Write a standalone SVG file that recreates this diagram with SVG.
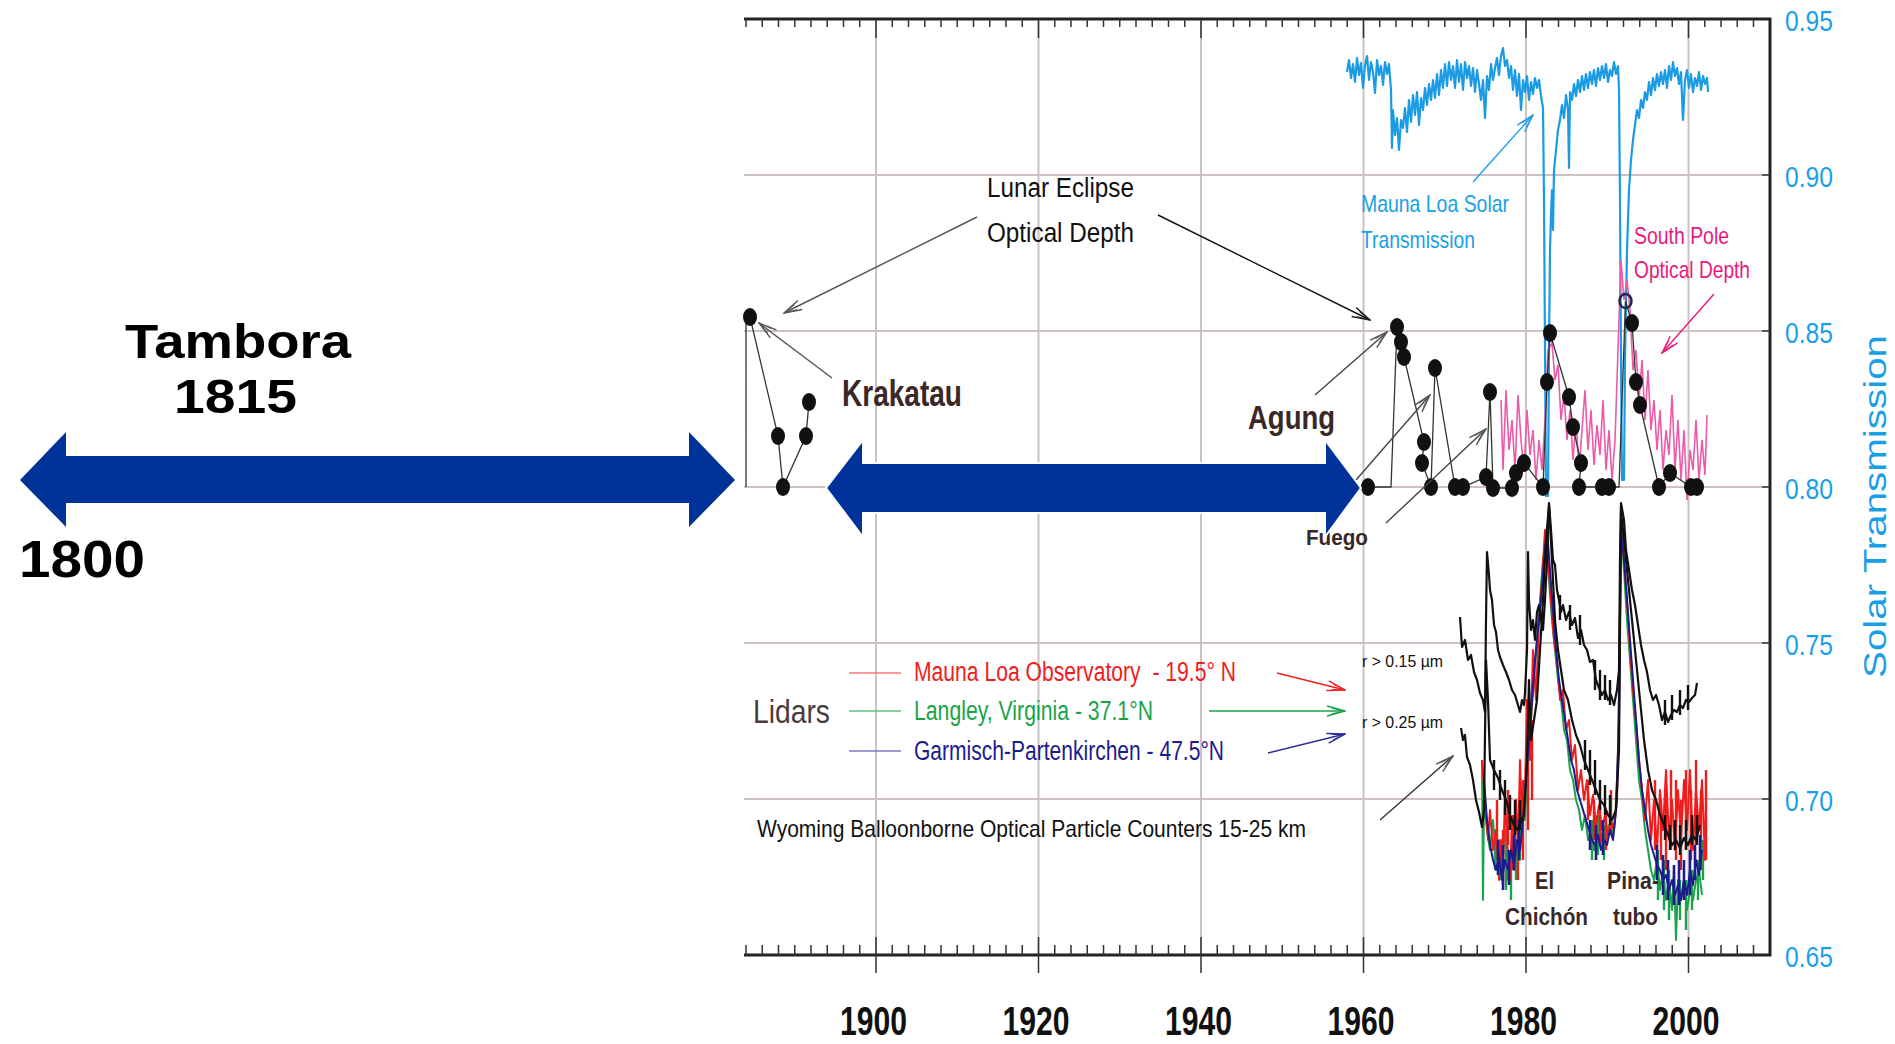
<svg xmlns="http://www.w3.org/2000/svg" width="1895" height="1044" viewBox="0 0 1895 1044">
<style>
.t{font-family:"Liberation Sans",Arial,sans-serif}
.b{font-weight:bold}
.grid{stroke:#cdc2c0;stroke-width:2;fill:none}
.frame{stroke:#222;stroke-width:3;fill:none}
.tick{stroke:#333;stroke-width:1.5;fill:none}
.dl{stroke:#333;stroke-width:1.3;fill:none}
.dot{fill:#111}
.cy{fill:#1a9fe6}
.brn{fill:#3a2828}
.ar{fill:none;stroke-width:1.4}
.blue{fill:#003399}
</style>
<defs>
<marker id="ah-k" viewBox="0 0 20 12" refX="19" refY="6" markerWidth="20" markerHeight="12" markerUnits="userSpaceOnUse" orient="auto"><path d="M1,1 L19,6 L1,11 M6,3 L19,6 L6,9" fill="none" stroke="#222" stroke-width="1.5"/></marker>
<marker id="ah-g" viewBox="0 0 20 12" refX="19" refY="6" markerWidth="20" markerHeight="12" markerUnits="userSpaceOnUse" orient="auto"><path d="M1,1 L19,6 L1,11 M6,3 L19,6 L6,9" fill="none" stroke="#555" stroke-width="1.4"/></marker>
<marker id="ah-c" viewBox="0 0 20 12" refX="19" refY="6" markerWidth="20" markerHeight="12" markerUnits="userSpaceOnUse" orient="auto"><path d="M1,1 L19,6 L1,11 M6,3 L19,6 L6,9" fill="none" stroke="#1a9fe6" stroke-width="1.4"/></marker>
<marker id="ah-p" viewBox="0 0 20 12" refX="19" refY="6" markerWidth="20" markerHeight="12" markerUnits="userSpaceOnUse" orient="auto"><path d="M1,1 L19,6 L1,11 M6,3 L19,6 L6,9" fill="none" stroke="#e8197d" stroke-width="1.4"/></marker>
<marker id="ah-r" viewBox="0 0 20 12" refX="19" refY="6" markerWidth="20" markerHeight="12" markerUnits="userSpaceOnUse" orient="auto"><path d="M1,1 L19,6 L1,11 M6,3 L19,6 L6,9" fill="none" stroke="#f02020" stroke-width="1.4"/></marker>
<marker id="ah-gr" viewBox="0 0 20 12" refX="19" refY="6" markerWidth="20" markerHeight="12" markerUnits="userSpaceOnUse" orient="auto"><path d="M1,1 L19,6 L1,11 M6,3 L19,6 L6,9" fill="none" stroke="#1aa34a" stroke-width="1.4"/></marker>
<marker id="ah-bl" viewBox="0 0 20 12" refX="19" refY="6" markerWidth="20" markerHeight="12" markerUnits="userSpaceOnUse" orient="auto"><path d="M1,1 L19,6 L1,11 M6,3 L19,6 L6,9" fill="none" stroke="#2a2a9a" stroke-width="1.4"/></marker>
</defs>
<rect width="1895" height="1044" fill="#fff"/>

<g id="grid">
<path class="grid" d="M744 175H1770M744 331H1770M744 487H1770M744 643H1770M744 799H1770"/>
<path class="grid" d="M876 19V955M1038.5 19V955M1201 19V955M1363.5 19V955M1526 19V955M1688.5 19V955"/>
</g>

<g id="axes">
<path class="frame" d="M744 19H1770V955H744"/>
<path class="tick" d="M746 19v8M762.25 19v8M778.5 19v8M794.75 19v8M811 19v8M827.25 19v8M843.5 19v8M859.75 19v8M892.25 19v8M908.5 19v8M924.75 19v8M941 19v8M957.25 19v8M973.5 19v8M989.75 19v8M1006 19v8M1022.25 19v8M1054.75 19v8M1071 19v8M1087.25 19v8M1103.5 19v8M1119.75 19v8M1136 19v8M1152.25 19v8M1168.5 19v8M1184.75 19v8M1217.25 19v8M1233.5 19v8M1249.75 19v8M1266 19v8M1282.25 19v8M1298.5 19v8M1314.75 19v8M1331 19v8M1347.25 19v8M1379.75 19v8M1396 19v8M1412.25 19v8M1428.5 19v8M1444.75 19v8M1461 19v8M1477.25 19v8M1493.5 19v8M1509.75 19v8M1542.25 19v8M1558.5 19v8M1574.75 19v8M1591 19v8M1607.25 19v8M1623.5 19v8M1639.75 19v8M1656 19v8M1672.25 19v8M1704.75 19v8M1721 19v8M1737.25 19v8M1753.5 19v8"/>
<path class="tick" d="M746 945v10M762.25 945v10M778.5 945v10M794.75 945v10M811 945v10M827.25 945v10M843.5 945v10M859.75 945v10M892.25 945v10M908.5 945v10M924.75 945v10M941 945v10M957.25 945v10M973.5 945v10M989.75 945v10M1006 945v10M1022.25 945v10M1054.75 945v10M1071 945v10M1087.25 945v10M1103.5 945v10M1119.75 945v10M1136 945v10M1152.25 945v10M1168.5 945v10M1184.75 945v10M1217.25 945v10M1233.5 945v10M1249.75 945v10M1266 945v10M1282.25 945v10M1298.5 945v10M1314.75 945v10M1331 945v10M1347.25 945v10M1379.75 945v10M1396 945v10M1412.25 945v10M1428.5 945v10M1444.75 945v10M1461 945v10M1477.25 945v10M1493.5 945v10M1509.75 945v10M1542.25 945v10M1558.5 945v10M1574.75 945v10M1591 945v10M1607.25 945v10M1623.5 945v10M1639.75 945v10M1656 945v10M1672.25 945v10M1704.75 945v10M1721 945v10M1737.25 945v10M1753.5 945v10"/>
<path class="tick" d="M876 19v19M1038.5 19v19M1201 19v19M1363.5 19v19M1526 19v19M1688.5 19v19M876 937v36M1038.5 937v36M1201 937v36M1363.5 937v36M1526 937v36M1688.5 937v36"/>
<path class="tick" d="M1762 175h8M1762 331h8M1762 487h8M1762 643h8M1762 799h8"/>
<g class="t b" font-size="40" text-anchor="middle" fill="#111">
<text x="873.5" y="1035" textLength="67" lengthAdjust="spacingAndGlyphs">1900</text>
<text x="1036" y="1035" textLength="67" lengthAdjust="spacingAndGlyphs">1920</text>
<text x="1198.5" y="1035" textLength="67" lengthAdjust="spacingAndGlyphs">1940</text>
<text x="1361" y="1035" textLength="67" lengthAdjust="spacingAndGlyphs">1960</text>
<text x="1523.5" y="1035" textLength="67" lengthAdjust="spacingAndGlyphs">1980</text>
<text x="1686" y="1035" textLength="67" lengthAdjust="spacingAndGlyphs">2000</text>
</g>
<g class="t cy" font-size="29">
<text x="1785" y="31" textLength="48" lengthAdjust="spacingAndGlyphs">0.95</text>
<text x="1785" y="186.5" textLength="48" lengthAdjust="spacingAndGlyphs">0.90</text>
<text x="1785" y="342.5" textLength="48" lengthAdjust="spacingAndGlyphs">0.85</text>
<text x="1785" y="498.5" textLength="48" lengthAdjust="spacingAndGlyphs">0.80</text>
<text x="1785" y="654.5" textLength="48" lengthAdjust="spacingAndGlyphs">0.75</text>
<text x="1785" y="810.5" textLength="48" lengthAdjust="spacingAndGlyphs">0.70</text>
<text x="1785" y="966.5" textLength="48" lengthAdjust="spacingAndGlyphs">0.65</text>
</g>
<text class="t cy" font-size="32" transform="translate(1886 506.5) rotate(-90)" text-anchor="middle" textLength="343" lengthAdjust="spacingAndGlyphs">Solar Transmission</text>
</g>

<g id="solar-transmission-series">
<polyline fill="none" stroke="#1a9be4" stroke-width="2.2" stroke-linejoin="round" points="1347,72 1349,60 1351,78 1353,64 1355,82 1357,58 1359,75 1361,63 1363,88 1365,66 1367,56 1369,80 1371,62 1373,72 1375,93 1377,60 1379,75 1381,66 1383,85 1385,62 1387,74 1389,64 1391,90 1392,148 1393,110 1395,135 1397,118 1399,150 1401,120 1403,128 1405,108 1407,132 1409,100 1411,122 1413,95 1415,115 1417,92 1419,125 1421,98 1423,110 1425,88 1427,105 1429,84 1431,100 1433,80 1435,98 1437,74 1439,95 1441,70 1443,88 1445,64 1447,86 1449,62 1451,80 1453,66 1455,88 1457,60 1459,82 1461,64 1463,90 1465,62 1467,78 1469,66 1471,86 1473,68 1475,92 1477,70 1479,84 1481,100 1483,80 1485,118 1487,76 1489,90 1491,64 1493,80 1495,68 1497,58 1499,75 1501,56 1503,48 1505,66 1507,60 1509,78 1511,66 1513,90 1515,70 1517,96 1519,74 1521,110 1523,80 1525,92 1527,76 1529,100 1531,82 1533,94 1535,78 1537,88 1539,80 1541,96 1543,108 1544,200 1545,350 1546,496 1548,496 1549,350 1550,250 1551,215 1552,190 1553,230 1554,170 1556,150 1558,130 1560,120 1562,105 1564,118 1566,95 1568,110 1569,168 1570,92 1572,100 1574,84 1576,96 1578,80 1580,92 1582,76 1584,90 1586,74 1588,88 1590,72 1592,84 1594,70 1596,86 1598,68 1600,80 1602,66 1604,78 1606,64 1608,82 1610,70 1612,76 1614,62 1616,74 1618,66 1619,90 1620,200 1621,360 1622,480 1624,480 1625,360 1627,250 1629,190 1631,160 1633,140 1635,125 1637,110 1639,118 1641,100 1643,108 1645,92 1647,100 1649,82 1651,95 1653,78 1655,90 1657,74 1659,86 1661,72 1663,84 1665,70 1667,88 1669,66 1671,80 1673,62 1675,76 1677,68 1679,84 1681,72 1683,120 1685,80 1687,70 1689,88 1691,74 1693,92 1695,78 1697,86 1699,72 1701,90 1703,76 1705,84 1707,78 1708,92"/>
</g>

<g id="south-pole-series">
<polyline fill="none" stroke="#ec5aa8" stroke-width="1.6" points="1501,400 1503,470 1506,390 1509,450 1512,420 1515,470 1518,395 1521,440 1524,470 1527,410 1530,455 1533,430 1536,480 1539,440 1542,470 1545,420 1548,350 1552,343 1555,380 1558,365 1561,420 1564,395 1567,440 1570,410 1573,460 1576,420 1579,470 1582,430 1585,390 1588,450 1591,410 1594,465 1597,425 1600,455 1603,400 1606,470 1609,430 1612,480 1615,440 1618,350 1621,260 1624,300 1627,280 1630,310 1633,370 1636,350 1639,400 1642,360 1645,420 1648,370 1651,430 1654,400 1657,450 1660,410 1663,470 1666,430 1669,455 1672,395 1675,470 1678,420 1681,480 1684,430 1687,500 1690,450 1693,470 1696,420 1699,480 1702,440 1705,475 1707,415"/>
</g>

<g id="lunar-eclipse-series">
<polyline class="dl" points="746,487 746,318 750,317 778,436 783,487 806,436 809,402"/>
<polyline class="dl" points="1368,487 1391,487 1397,327 1401,342 1404,357 1424,442 1422,463 1431,487 1435,368 1455,487 1463,487 1486,477 1490,392 1493,488 1512,488 1516,473 1524,463 1543,487 1547,382 1550,333 1569,397 1573,427 1581,463 1579,487 1602,487 1609,487 1619,487 1625.5,301 1632,323 1636,382 1640,405 1659,487 1670,473 1691,487 1697,487"/>
<g class="dot">
<ellipse cx="750" cy="317" rx="7" ry="9"/><ellipse cx="778" cy="436" rx="7" ry="9"/><ellipse cx="783" cy="487" rx="7" ry="9"/><ellipse cx="806" cy="436" rx="7" ry="9"/><ellipse cx="809" cy="402" rx="7" ry="9"/>
<ellipse cx="1368" cy="487" rx="7" ry="9"/><ellipse cx="1397" cy="327" rx="7" ry="9"/><ellipse cx="1401" cy="342" rx="7" ry="9"/><ellipse cx="1404" cy="357" rx="7" ry="9"/><ellipse cx="1424" cy="442" rx="7" ry="9"/><ellipse cx="1422" cy="463" rx="7" ry="9"/><ellipse cx="1431" cy="487" rx="7" ry="9"/><ellipse cx="1435" cy="368" rx="7" ry="9"/><ellipse cx="1455" cy="487" rx="7" ry="9"/><ellipse cx="1463" cy="487" rx="7" ry="9"/><ellipse cx="1486" cy="477" rx="7" ry="9"/><ellipse cx="1490" cy="392" rx="7" ry="9"/><ellipse cx="1493" cy="488" rx="7" ry="9"/><ellipse cx="1512" cy="488" rx="7" ry="9"/><ellipse cx="1516" cy="473" rx="7" ry="9"/><ellipse cx="1524" cy="463" rx="7" ry="9"/><ellipse cx="1543" cy="487" rx="7" ry="9"/><ellipse cx="1547" cy="382" rx="7" ry="9"/><ellipse cx="1550" cy="333" rx="7" ry="9"/><ellipse cx="1569" cy="397" rx="7" ry="9"/><ellipse cx="1573" cy="427" rx="7" ry="9"/><ellipse cx="1581" cy="463" rx="7" ry="9"/><ellipse cx="1579" cy="487" rx="7" ry="9"/><ellipse cx="1602" cy="487" rx="7" ry="9"/><ellipse cx="1609" cy="487" rx="7" ry="9"/><ellipse cx="1632" cy="323" rx="7" ry="9"/><ellipse cx="1636" cy="382" rx="7" ry="9"/><ellipse cx="1640" cy="405" rx="7" ry="9"/><ellipse cx="1659" cy="487" rx="7" ry="9"/><ellipse cx="1670" cy="473" rx="7" ry="9"/><ellipse cx="1691" cy="487" rx="7" ry="9"/><ellipse cx="1697" cy="487" rx="7" ry="9"/>
</g>
<ellipse cx="1625.5" cy="301" rx="6" ry="7" fill="none" stroke="#1a2a50" stroke-width="2.5"/>
</g>

<g id="lidar-series" fill="none" stroke-width="2" stroke-linejoin="round">
<polyline stroke="#1aa34a" points="1482,760 1483,900 1484,800 1487,830 1490,850 1493,820 1496,860 1499,840 1502,870 1505,830 1508,880 1511,850 1514,870 1517,840 1520,860 1522,800 1525,820 1528,760 1531,720 1534,680 1537,640 1540,600 1543,560 1546,540 1549,580 1552,620 1555,650 1558,680 1561,700 1564,730 1567,740 1570,770 1573,780 1576,800 1579,810 1582,830 1585,815 1588,840 1591,830 1594,850 1597,835 1600,845 1603,830 1606,840 1609,825 1612,835 1615,820 1618,760 1621,530 1624,570 1627,620 1630,660 1633,700 1636,740 1639,780 1642,800 1645,830 1648,850 1651,870 1654,880 1657,860 1660,890 1663,870 1666,900 1669,880 1672,910 1674,870 1676,940 1678,880 1681,900 1684,880 1687,910 1690,890 1693,900 1696,880 1699,870 1702,895"/>
<path stroke="#1aa34a" stroke-width="2.4" d="M1495 870V830M1500 880V840M1506 890V850M1511 900V855M1516 880V840M1592 860V820M1598 855V815M1604 860V825M1658 900V850M1664 910V860M1669 920V870M1680 920V880M1686 930V880M1692 910V870M1698 900V860M1703 880V840"/>
<polyline stroke="#f01c1c" points="1482,760 1485,800 1488,840 1490,810 1493,850 1496,830 1499,880 1501,840 1503,860 1505,800 1507,840 1510,880 1512,820 1514,870 1516,800 1518,850 1520,760 1522,820 1525,790 1527,700 1530,760 1533,650 1536,700 1539,620 1542,580 1545,530 1548,560 1551,600 1554,640 1557,660 1560,700 1563,690 1566,730 1569,720 1572,760 1575,745 1578,790 1581,770 1584,800 1587,780 1590,815 1593,795 1596,825 1599,805 1602,830 1605,815 1608,835 1611,820 1614,830 1617,800 1619,700 1621,520 1624,560 1627,600 1630,650 1633,690 1636,720 1639,760 1642,790 1645,820 1648,780 1651,840 1654,800 1657,850 1660,790 1663,830 1666,770 1669,840 1672,800 1675,850 1678,790 1681,840 1684,780 1687,830 1690,770 1693,850 1696,790 1699,830 1702,780 1705,860 1706,800"/>
<path stroke="#f01c1c" stroke-width="2.4" d="M1497 850V800M1503 885V830M1508 845V790M1513 870V815M1518 880V830M1523 860V780M1528 830V760M1532 800V720M1588 820V780M1594 840V800M1600 845V805M1606 850V810M1611 835V790M1655 850V780M1661 860V800M1666 870V790M1671 850V770M1676 860V780M1681 870V800M1686 850V770M1691 860V790M1696 845V760M1701 870V790M1706 860V770"/>
<polyline stroke="#1c1c8c" points="1484,780 1487,820 1490,845 1493,860 1496,870 1499,855 1502,880 1505,860 1508,870 1511,850 1514,865 1517,840 1520,850 1523,820 1526,780 1529,740 1532,700 1535,660 1538,630 1541,600 1544,560 1547,530 1550,570 1553,610 1556,650 1559,680 1562,700 1565,720 1568,740 1571,760 1574,770 1577,790 1580,800 1583,810 1586,820 1589,830 1592,840 1595,845 1598,835 1601,850 1604,840 1607,845 1610,830 1613,840 1616,810 1619,720 1621,530 1624,560 1627,600 1630,640 1633,680 1636,720 1639,760 1642,790 1645,810 1648,830 1651,845 1654,855 1657,865 1660,870 1663,880 1666,875 1669,890 1672,880 1675,895 1678,885 1681,900 1684,880 1687,895 1690,870 1693,885 1696,860 1699,875 1702,850"/>
<path stroke="#1c1c8c" stroke-width="2.6" d="M1498 875V840M1503 890V845M1509 885V850M1514 870V835M1519 860V820M1590 850V820M1596 860V825M1603 855V820M1657 880V845M1663 895V855M1668 900V860M1674 905V865M1679 905V860M1684 900V860M1690 895V850M1695 880V845M1700 870V835"/>
</g>

<g id="opc-series" fill="none" stroke="#111" stroke-width="2.2" stroke-linejoin="round">
<polyline points="1460,617 1462,647 1465,640 1468,660 1471,655 1474,672 1477,680 1480,693 1483,700 1485,712 1486,620 1487,552 1489,575 1490,590 1492,600 1494,625 1496,632 1498,650 1500,657 1503,665 1506,672 1509,680 1512,690 1515,695 1518,705 1520,712 1522,700 1524,705 1525,693 1527,650 1528,552 1529,600 1531,630 1533,620 1535,640 1537,612 1539,605 1541,620 1543,630 1545,600 1547,560 1549,503 1551,530 1553,560 1555,565 1557,590 1559,600 1561,612 1563,605 1566,620 1569,612 1572,625 1575,618 1578,638 1581,630 1584,645 1587,650 1590,662 1593,660 1596,680 1599,688 1602,695 1605,690 1608,700 1611,695 1614,705 1617,690 1619,670 1620,560 1621,503 1624,520 1626,550 1629,570 1632,590 1635,605 1638,625 1641,645 1644,660 1647,672 1650,690 1653,700 1656,695 1659,705 1662,720 1665,712 1668,722 1671,715 1674,710 1677,712 1680,705 1683,708 1686,700 1689,702 1692,698 1695,695 1697,683"/>
<polyline points="1461,728 1463,740 1465,735 1467,757 1470,765 1473,780 1476,800 1479,812 1482,827 1484,810 1486,660 1488,700 1490,760 1494,770 1498,778 1502,790 1506,800 1510,815 1514,825 1518,830 1521,822 1524,815 1527,760 1529,680 1531,740 1534,720 1537,700 1540,650 1543,600 1546,540 1549,505 1552,560 1555,620 1558,650 1561,670 1564,690 1568,700 1572,720 1576,735 1580,745 1584,760 1588,770 1592,780 1596,790 1600,800 1604,805 1608,815 1612,820 1616,810 1619,750 1621,510 1624,540 1628,580 1632,620 1636,660 1640,700 1644,740 1648,770 1652,790 1656,800 1660,815 1664,825 1668,835 1672,845 1676,840 1680,848 1684,838 1688,845 1692,835 1696,840 1700,825"/>
<path stroke-width="2.4" d="M1494 790V760M1500 800V770M1505 815V780M1510 830V795M1515 835V800M1520 830V800M1585 770V740M1590 785V750M1595 795V760M1600 810V780M1605 815V785M1610 825V795M1665 840V815M1670 850V825M1675 850V820M1680 855V825M1686 850V820M1692 845V815M1697 845V815M1595 690V660M1600 700V670M1605 700V675M1610 705V680M1665 725V700M1672 720V695M1680 715V690M1688 710V685M1560 620V595M1570 630V605M1580 645V615"/>
</g>

<g id="connectors">
<line class="ar" stroke="#555" x1="977" y1="217" x2="784" y2="313" marker-end="url(#ah-g)"/>
<line class="ar" stroke="#111" stroke-width="2.6" x1="1158" y1="215" x2="1370" y2="320" marker-end="url(#ah-k)"/>
<line class="ar" stroke="#555" x1="832" y1="378" x2="759" y2="323" marker-end="url(#ah-g)"/>
<line class="ar" stroke="#444" x1="1315" y1="395" x2="1387" y2="332" marker-end="url(#ah-g)"/>
<line class="ar" stroke="#444" x1="1356" y1="480" x2="1430" y2="395" marker-end="url(#ah-g)"/>
<line class="ar" stroke="#444" x1="1386" y1="523" x2="1486" y2="429" marker-end="url(#ah-g)"/>
<line class="ar" stroke="#1a9fe6" x1="1473" y1="182" x2="1533" y2="115" marker-end="url(#ah-c)"/>
<line class="ar" stroke="#e8197d" x1="1714" y1="294" x2="1662" y2="353" marker-end="url(#ah-p)"/>
<line class="ar" stroke="#f02020" x1="1277" y1="673" x2="1345" y2="690" marker-end="url(#ah-r)"/>
<line class="ar" stroke="#1aa34a" x1="1209" y1="711" x2="1345" y2="711" marker-end="url(#ah-gr)"/>
<line class="ar" stroke="#2a2a9a" x1="1268" y1="753" x2="1345" y2="734" marker-end="url(#ah-bl)"/>
<line class="ar" stroke="#333" x1="1380" y1="820" x2="1453" y2="756" marker-end="url(#ah-g)"/>
</g>

<g id="labels" class="t">
<text x="987" y="197" font-size="27" fill="#111" textLength="147" lengthAdjust="spacingAndGlyphs">Lunar Eclipse</text>
<text x="987" y="242" font-size="27" fill="#111" textLength="147" lengthAdjust="spacingAndGlyphs">Optical Depth</text>
<text class="b brn" x="842" y="406" font-size="37" textLength="120" lengthAdjust="spacingAndGlyphs">Krakatau</text>
<text class="b brn" x="1248" y="429" font-size="34" textLength="87" lengthAdjust="spacingAndGlyphs">Agung</text>
<text class="b brn" x="1306" y="545" font-size="22" textLength="62" lengthAdjust="spacingAndGlyphs">Fuego</text>
<text class="cy" x="1361" y="212" font-size="24" textLength="148" lengthAdjust="spacingAndGlyphs">Mauna Loa Solar</text>
<text class="cy" x="1361" y="248" font-size="24" textLength="114" lengthAdjust="spacingAndGlyphs">Transmission</text>
<text x="1634" y="244" font-size="24" fill="#e8197d" textLength="95" lengthAdjust="spacingAndGlyphs">South Pole</text>
<text x="1634" y="278" font-size="24" fill="#e8197d" textLength="116" lengthAdjust="spacingAndGlyphs">Optical Depth</text>
<text x="753" y="723" font-size="34" fill="#4a3c3c" textLength="77" lengthAdjust="spacingAndGlyphs">Lidars</text>
<text x="914" y="681" font-size="27" fill="#f01c1c" textLength="322" lengthAdjust="spacingAndGlyphs" xml:space="preserve">Mauna Loa Observatory  - 19.5° N</text>
<text x="914" y="720" font-size="27" fill="#1aa34a" textLength="239" lengthAdjust="spacingAndGlyphs">Langley, Virginia - 37.1°N</text>
<text x="914" y="760" font-size="27" fill="#1c1c8c" textLength="310" lengthAdjust="spacingAndGlyphs">Garmisch-Partenkirchen - 47.5°N</text>
<text x="757" y="837" font-size="24" fill="#111" textLength="549" lengthAdjust="spacingAndGlyphs">Wyoming Balloonborne Optical Particle Counters 15-25 km</text>
<text x="1362" y="667" font-size="17" fill="#111" textLength="81" lengthAdjust="spacingAndGlyphs">r &gt; 0.15 µm</text>
<text x="1362" y="728" font-size="17" fill="#111" textLength="81" lengthAdjust="spacingAndGlyphs">r &gt; 0.25 µm</text>
<text class="b brn" x="1535" y="889" font-size="24" textLength="19" lengthAdjust="spacingAndGlyphs">El</text>
<text class="b brn" x="1505" y="925" font-size="24" textLength="83" lengthAdjust="spacingAndGlyphs">Chichón</text>
<text class="b brn" x="1607" y="889" font-size="24" textLength="52" lengthAdjust="spacingAndGlyphs">Pina-</text>
<text class="b brn" x="1613" y="925" font-size="24" textLength="45" lengthAdjust="spacingAndGlyphs">tubo</text>
</g>

<g id="legend-swatches" stroke-width="1.6">
<line x1="849" y1="673" x2="901" y2="673" stroke="#f57a7a"/>
<line x1="849" y1="711" x2="901" y2="711" stroke="#5cbf7c"/>
<line x1="849" y1="751" x2="901" y2="751" stroke="#7a7ac2"/>
</g>

<g id="tambora-arrow">
<polygon class="blue" points="20,480 66,432 66,456 689,456 689,432 735,480 689,527 689,503 66,503 66,527"/>
<text class="t b" x="125" y="358" font-size="49" fill="#000" textLength="226" lengthAdjust="spacingAndGlyphs">Tambora</text>
<text class="t b" x="174" y="413" font-size="49" fill="#000" textLength="123" lengthAdjust="spacingAndGlyphs">1815</text>
<text class="t b" x="19" y="577" font-size="51" fill="#000" textLength="126" lengthAdjust="spacingAndGlyphs">1800</text>
</g>

<g id="gap-arrow">
<polygon class="blue" stroke="#fff" stroke-width="2" points="826,488 863,440 863,463 1325,463 1325,440 1361,488 1325,537 1325,513 863,513 863,537"/>
</g>
</svg>
